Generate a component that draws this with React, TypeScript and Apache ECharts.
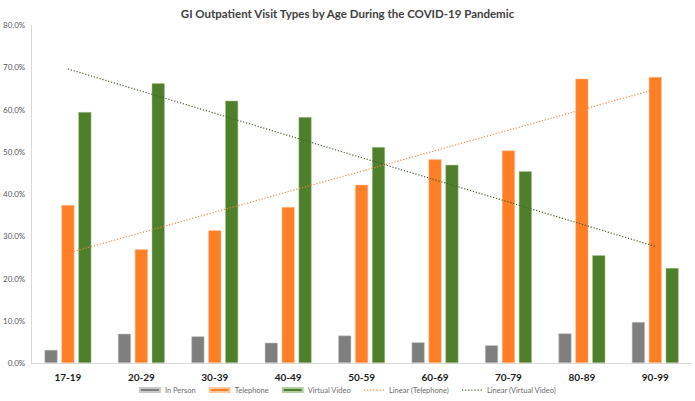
import React, { useEffect, useRef } from "react";
import * as echarts from "echarts";

const categories = ["17-19", "20-29", "30-39", "40-49", "50-59", "60-69", "70-79", "80-89", "90-99"];
const inPerson = [3.1, 6.9, 6.3, 4.8, 6.5, 4.9, 4.2, 7.0, 9.7];
const telephone = [37.4, 26.9, 31.4, 36.9, 42.2, 48.2, 50.3, 67.3, 67.7];
const virtualVideo = [59.4, 66.2, 62.1, 58.2, 51.1, 46.9, 45.4, 25.5, 22.5];
// Trendline end points (first and last category)
const telephoneTrend = [26.0, 64.8];
const videoTrend = [69.6, 27.6];

const FONT = "Lato, 'Open Sans', sans-serif";

function trendData(ends: number[]) {
  return categories.map((_, i) =>
    i === 0 ? ends[0] : i === categories.length - 1 ? ends[1] : null
  );
}

const dotIcon =
  "path://M0,0h1.2v1.2h-1.2z M3,0h1.2v1.2h-1.2z M6,0h1.2v1.2h-1.2z M9,0h1.2v1.2h-1.2z M12,0h1.2v1.2h-1.2z M15,0h1.2v1.2h-1.2z M18,0h1.2v1.2h-1.2z";

export default function App() {
  const ref = useRef<HTMLDivElement>(null);
  useEffect(() => {
    if (!ref.current) return;
    const chart = echarts.init(ref.current, null, { renderer: "svg" });
    chart.setOption({
      animation: false,
      backgroundColor: "#ffffff",
      title: {
        text: "GI Outpatient Visit Types by Age During the COVID-19 Pandemic",
        left: "center",
        top: 2,
        textStyle: { fontFamily: FONT, fontSize: 11.5, fontWeight: "bold", color: "#404040" },
      },
      grid: { left: 31, right: 3, top: 25, bottom: 38, containLabel: false },
      legend: {
        bottom: 2,
        left: "center",
        itemWidth: 20,
        itemHeight: 4,
        itemGap: 13,
        textStyle: { fontFamily: FONT, fontSize: 7.5, color: "#6b6b6b" },
        data: [
          { name: "In Person", icon: "rect" },
          { name: "Telephone", icon: "rect" },
          { name: "Virtual Video", icon: "rect" },
          { name: "Linear (Telephone)", icon: dotIcon },
          { name: "Linear (Virtual Video)", icon: dotIcon },
        ],
      },
      xAxis: {
        type: "category",
        data: categories,
        axisLine: { show: true, lineStyle: { color: "#d9d9d9" } },
        axisTick: { show: false },
        axisLabel: { fontFamily: FONT, fontSize: 10, fontWeight: "bold", color: "#1a1a1a", margin: 9 },
        splitLine: { show: false },
      },
      yAxis: {
        type: "value",
        min: 0,
        max: 80,
        interval: 10,
        axisLine: { show: true, lineStyle: { color: "#d9d9d9" } },
        axisTick: { show: false },
        splitLine: { show: false },
        axisLabel: {
          fontFamily: FONT,
          fontSize: 8,
          color: "#595959",
          margin: 6,
          formatter: (v: number) => v.toFixed(1) + "%",
        },
      },
      series: [
        {
          name: "In Person",
          type: "bar",
          data: inPerson,
          barWidth: 13,
          barGap: "30%",
          itemStyle: { color: "#7f7f7f", borderColor: "#c8c8c8", borderWidth: 0.5 },
        },
        {
          name: "Telephone",
          type: "bar",
          data: telephone,
          barWidth: 13,
          barGap: "30%",
          itemStyle: { color: "#ff7f27", borderColor: "#ffc9a0", borderWidth: 0.5 },
        },
        {
          name: "Virtual Video",
          type: "bar",
          data: virtualVideo,
          barWidth: 13,
          barGap: "30%",
          itemStyle: { color: "#4e7f2a", borderColor: "#b5cba3", borderWidth: 0.5 },
        },
        {
          name: "Linear (Telephone)",
          type: "line",
          data: trendData(telephoneTrend),
          connectNulls: true,
          symbol: "none",
          itemStyle: { color: "#ef8a45" },
          lineStyle: { color: "#ef8a45", width: 1.2, type: [1.2, 1.8] },
          z: 5,
        },
        {
          name: "Linear (Virtual Video)",
          type: "line",
          data: trendData(videoTrend),
          connectNulls: true,
          symbol: "none",
          itemStyle: { color: "#3f5f28" },
          lineStyle: { color: "#3f5f28", width: 1.2, type: [1.2, 1.8] },
          z: 5,
        },
      ],
    });
    return () => chart.dispose();
  }, []);
  return (
    <div
      ref={ref}
      style={{ position: "fixed", left: 0, top: 0, width: 695, height: 401 }}
    />
  );
}
